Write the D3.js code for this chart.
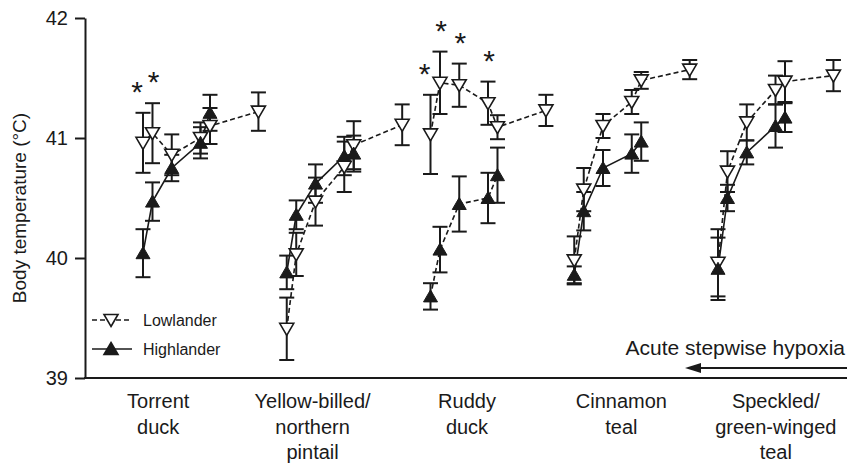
<!DOCTYPE html>
<html>
<head>
<meta charset="utf-8">
<script src="https://cdn.jsdelivr.net/npm/d3@7"></script>
<style>
  body { margin: 0; background: #fff; }
  svg { display: block; font-family: "Liberation Sans", Arial, sans-serif; }
</style>
</head>
<body>
<div id="chart"></div>
<script>
// species (x categories), one label line per array entry
var species = ["Torrent duck", "Yellow-billed/northern pintail", "Ruddy duck", "Cinnamon teal", "Speckled/green-winged teal"];
var speciesLines = [["Torrent", "duck"], ["Yellow-billed/", "northern", "pintail"], ["Ruddy", "duck"], ["Cinnamon", "teal"], ["Speckled/", "green-winged", "teal"]];

// hypoxia steps, position inside a species group (last = normoxia, lowlanders only)
var steps = [0, 0.066, 0.2, 0.4, 0.466, 0.803];

// body temperature, mean and s.e.m. (deg C)
var lowMean = [
  [40.96, 41.04, 40.86, 41.00, 41.10, 41.22],
  [39.41, 40.03, 40.47, 40.76, 40.94, 41.11],
  [41.03, 41.46, 41.44, 41.29, 41.09, 41.23],
  [39.98, 40.57, 41.10, 41.30, 41.48, 41.57],
  [39.96, 40.72, 41.13, 41.40, 41.47, 41.52]
];
var lowErr = [
  [0.25, 0.25, 0.17, 0.13, 0.15, 0.16],
  [0.26, 0.18, 0.20, 0.21, 0.20, 0.17],
  [0.33, 0.26, 0.18, 0.18, 0.10, 0.13],
  [0.20, 0.18, 0.10, 0.10, 0.07, 0.08],
  [0.28, 0.17, 0.15, 0.12, 0.17, 0.13]
];
var highMean = [
  [40.04, 40.47, 40.75, 40.96, 41.21],
  [39.88, 40.36, 40.62, 40.85, 40.87],
  [39.68, 40.07, 40.45, 40.50, 40.69],
  [39.86, 40.39, 40.75, 40.87, 40.97],
  [39.91, 40.50, 40.88, 41.10, 41.17]
];
var highErr = [
  [0.20, 0.16, 0.11, 0.13, 0.15],
  [0.14, 0.12, 0.16, 0.16, 0.15],
  [0.11, 0.19, 0.23, 0.21, 0.23],
  [0.07, 0.16, 0.15, 0.16, 0.16],
  [0.26, 0.11, 0.10, 0.18, 0.12]
];
// lowlander steps marked significant (*)
var significant = [[0, 1], [], [0, 1, 2, 3], [], []];

var yTicks = [39, 40, 41, 42];

// layout
var width = 847, height = 466;
var margin = {top: 18, left: 85, bottom: 88};
var plotBottom = height - margin.bottom;
var ink = "#1a1a1a";

var svg = d3.select("#chart").append("svg")
    .attr("width", width)
    .attr("height", height);

// scales
var y = d3.scaleLinear().domain([39, 42]).range([plotBottom, margin.top]);
var x = d3.scaleLinear().domain([0, 5]).range([143, 143 + 5 * 143.75]);   // group index + step
var xLabel = d3.scaleBand().domain(species).range([81, 853]);

// y axis
var yAxis = d3.axisLeft(y).tickValues(yTicks).tickFormat(d3.format("d"))
    .tickSize(10).tickSizeOuter(0).tickPadding(7);
var gy = svg.append("g").attr("transform", "translate(" + margin.left + ",0)").call(yAxis);
gy.select(".domain").attr("stroke", ink).attr("stroke-width", 2);
gy.selectAll(".tick line").attr("stroke", ink).attr("stroke-width", 2);
gy.selectAll(".tick text").attr("fill", ink).style("font-size", "20px")
    .style("font-family", "'Liberation Sans', Arial, sans-serif");

svg.append("text")
    .attr("transform", "translate(26," + ((margin.top + plotBottom) / 2 + 10) + ") rotate(-90)")
    .attr("text-anchor", "middle")
    .attr("fill", ink)
    .style("font-size", "19px")
    .text("Body temperature (\u00B0C)");

// x axis line
svg.append("line")
    .attr("x1", margin.left - 1).attr("x2", width)
    .attr("y1", plotBottom).attr("y2", plotBottom)
    .attr("stroke", ink).attr("stroke-width", 2);

// category labels
svg.selectAll(".cat").data(species).enter().append("text")
    .attr("class", "cat")
    .attr("text-anchor", "middle")
    .attr("fill", ink)
    .style("font-size", "20px")
    .attr("transform", function(d) { return "translate(" + (xLabel(d) + xLabel.bandwidth() / 2) + ",408)"; })
    .selectAll("tspan").data(function(d, i) { return speciesLines[i]; }).enter().append("tspan")
    .attr("x", 0).attr("dy", function(d, j) { return j === 0 ? 0 : 25.5; })
    .text(function(d) { return d; });

// markers
var triUp = "M0,-6.5L7,5.5L-7,5.5Z",
    triDown = "M0,6.5L7,-5.5L-7,-5.5Z";

function seriesPoints(means, errs, i) {
  return means[i].map(function(m, j) {
    return {x: x(i + steps[j]), m: m, e: errs[i][j], j: j};
  });
}

var line = d3.line().x(function(d) { return d.x; }).y(function(d) { return y(d.m); });
var dashedHigh = ["Ruddy duck"];

species.forEach(function(sp, i) {
  var low = seriesPoints(lowMean, lowErr, i),
      high = seriesPoints(highMean, highErr, i);
  var g = svg.append("g");

  g.append("path").datum(low).attr("d", line)
      .attr("fill", "none").attr("stroke", ink).attr("stroke-width", 1.6)
      .attr("stroke-dasharray", "5,3");
  g.append("path").datum(high).attr("d", line)
      .attr("fill", "none").attr("stroke", ink).attr("stroke-width", 1.6)
      .attr("stroke-dasharray", dashedHigh.indexOf(sp) >= 0 ? "5,3" : null);

  [low, high].forEach(function(pts, k) {
    var eb = g.selectAll(".eb" + k).data(pts).enter().append("g")
        .attr("stroke", ink).attr("stroke-width", 2);
    eb.append("line")
        .attr("x1", function(d) { return d.x; }).attr("x2", function(d) { return d.x; })
        .attr("y1", function(d) { return y(d.m + d.e); }).attr("y2", function(d) { return y(d.m - d.e); });
    eb.append("line")
        .attr("x1", function(d) { return d.x - 7.5; }).attr("x2", function(d) { return d.x + 7.5; })
        .attr("y1", function(d) { return y(d.m + d.e); }).attr("y2", function(d) { return y(d.m + d.e); });
    eb.append("line")
        .attr("x1", function(d) { return d.x - 7.5; }).attr("x2", function(d) { return d.x + 7.5; })
        .attr("y1", function(d) { return y(d.m - d.e); }).attr("y2", function(d) { return y(d.m - d.e); });
  });

  g.selectAll(".low").data(low).enter().append("path")
      .attr("d", triDown)
      .attr("transform", function(d) { return "translate(" + d.x + "," + y(d.m) + ")"; })
      .attr("fill", "#fff").attr("stroke", ink).attr("stroke-width", 1.6);
  g.selectAll(".high").data(high).enter().append("path")
      .attr("d", triUp)
      .attr("transform", function(d) { return "translate(" + d.x + "," + y(d.m) + ")"; })
      .attr("fill", ink).attr("stroke", ink).attr("stroke-width", 1);

  // significance stars above lowlander error bars
  g.selectAll(".star").data(significant[i].map(function(j) { return low[j]; })).enter().append("text")
      .attr("x", function(d) { return d.x + (d.j === 0 ? -6 : 1); })
      .attr("y", function(d) { return y(d.m + d.e) - 28 + 17; })
      .attr("text-anchor", "middle")
      .attr("fill", ink)
      .style("font-size", "30px")
      .text("*");
});

// legend
var legend = [{label: "Lowlander", shape: triDown, dash: "5,3", fill: "#fff", y: 320},
              {label: "Highlander", shape: triUp, dash: null, fill: ink, y: 349}];
var lg = svg.selectAll(".legend").data(legend).enter().append("g")
    .attr("transform", function(d) { return "translate(92," + d.y + ")"; });
lg.append("line").attr("x1", 0).attr("x2", 40)
    .attr("stroke", ink).attr("stroke-width", 1.6)
    .attr("stroke-dasharray", function(d) { return d.dash; });
lg.append("path").attr("d", function(d) { return d.shape; })
    .attr("transform", "translate(19,0)")
    .attr("fill", function(d) { return d.fill; }).attr("stroke", ink).attr("stroke-width", 1.6);
lg.append("text").attr("x", 51).attr("y", 6)
    .attr("fill", ink).style("font-size", "16px")
    .text(function(d) { return d.label; });

// hypoxia arrow
svg.append("text")
    .attr("x", 845).attr("y", 355)
    .attr("text-anchor", "end")
    .attr("fill", ink)
    .style("font-size", "21px")
    .text("Acute stepwise hypoxia");
svg.append("line")
    .attr("x1", 698).attr("x2", width)
    .attr("y1", 368).attr("y2", 368)
    .attr("stroke", ink).attr("stroke-width", 2);
svg.append("path")
    .attr("d", "M685,368L701,363L701,373Z")
    .attr("fill", ink);
</script>
</body>
</html>
